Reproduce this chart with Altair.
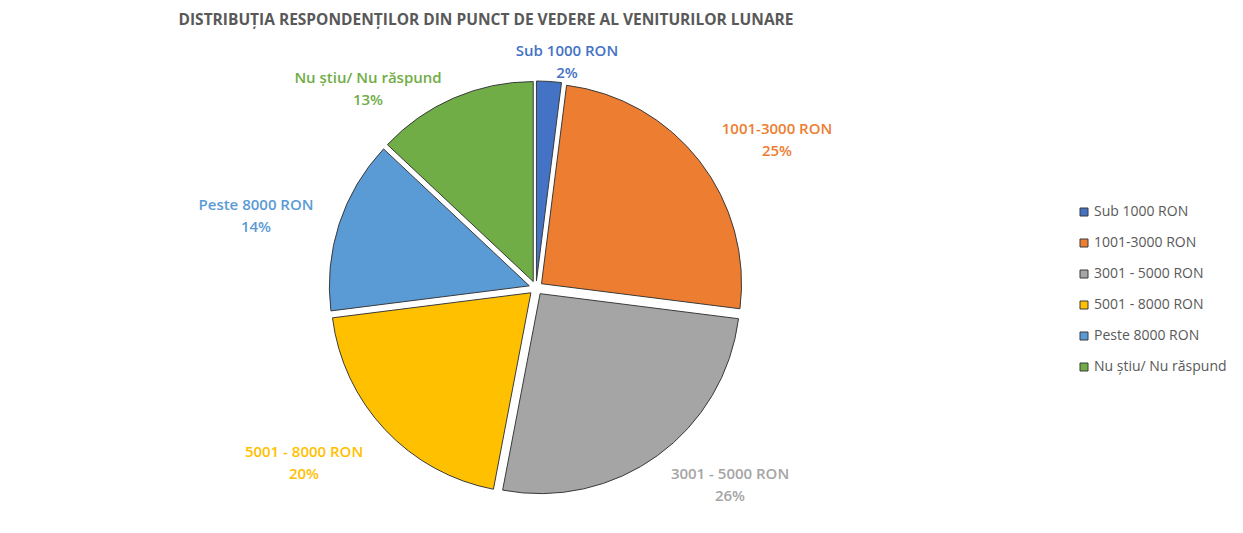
import altair as alt
import pandas as pd

# ---- data ----
categories = ["Sub 1000 RON", "1001-3000 RON", "3001 - 5000 RON", " 5001 - 8000 RON", "Peste 8000 RON", "Nu știu/ Nu răspund"]
label_names = ["Sub 1000 RON", "1001-3000 RON", "3001 - 5000 RON", "5001 - 8000 RON", "Peste 8000 RON", "Nu știu/ Nu răspund"]
values = [2, 25, 26, 20, 14, 13]
title_text = "DISTRIBUȚIA  RESPONDENȚILOR DIN PUNCT DE VEDERE AL VENITURILOR LUNARE"

# ---- styling / layout ----
palette = ["#4472C4", "#ED7D31", "#A5A5A5", "#FFC000", "#5B9BD5", "#70AD47"]
FONT = "Open Sans"
CX, CY, R, EXPLODE = 528, 280, 200, 7
label_layout = {  # label anchor: centre x, first-line y (pixels)
    "Sub 1000 RON": (559, 43),
    "1001-3000 RON": (769, 121),
    "3001 - 5000 RON": (722, 466),
    "5001 - 8000 RON": (296, 444),
    "Peste 8000 RON": (248, 197),
    "Nu știu/ Nu răspund": (360, 70),
}

df = pd.DataFrame({"cat": categories, "value": values, "idx": list(range(len(values)))})

pie = alt.Chart(df).transform_window(
    cum="sum(value)", sort=[alt.SortField("idx")], frame=[None, 0]
).transform_joinaggregate(
    total="sum(value)"
).transform_calculate(
    t1="datum.cum / datum.total",
    t0="(datum.cum - datum.value) / datum.total",
).transform_calculate(
    mid="(datum.t0 + datum.t1) * PI",
).transform_calculate(
    px=f"{CX} + {EXPLODE} * sin(datum.mid)",
    py=f"{CY} - {EXPLODE} * cos(datum.mid)",
).mark_arc(outerRadius=R, stroke="#3a3a3a", strokeWidth=1).encode(
    theta=alt.Theta("t0:Q", scale=alt.Scale(domain=[0, 1], range=[0, 6.283185307179586])),
    theta2="t1:Q",
    x=alt.X("px:Q", scale=None, axis=None),
    y=alt.Y("py:Q", scale=None, axis=None),
    color=alt.Color(
        "cat:N",
        scale=alt.Scale(domain=categories, range=palette),
        sort=categories,
        legend=alt.Legend(
            title=None, orient="none", legendX=1069, legendY=197,
            symbolType="square", symbolSize=64, symbolStrokeColor="#3a3a3a", symbolStrokeWidth=1,
            labelFont=FONT, labelFontSize=14, labelColor="#595959",
            rowPadding=17, labelOffset=3, padding=0,
        ),
    ),
    order=alt.Order("idx:Q"),
)

lab_df = pd.DataFrame({
    "txt": [f"{n}\n{v}%" for n, v in zip(label_names, values)],
    "lx": [label_layout[n][0] for n in label_names],
    "ly": [label_layout[n][1] for n in label_names],
    "col": palette,
})

labels = alt.Chart(lab_df).mark_text(
    font=FONT, fontSize=15, fontWeight=600, lineBreak="\n", lineHeight=22,
    align="center", baseline="middle",
).encode(
    x=alt.X("lx:Q", scale=None, axis=None),
    y=alt.Y("ly:Q", scale=None, axis=None),
    text="txt:N",
    color=alt.Color("col:N", scale=None),
)

title = alt.Chart(pd.DataFrame({"t": [title_text]})).mark_text(
    font=FONT, fontSize=15.5, fontWeight="bold", color="#595959", align="center", baseline="middle",
).encode(
    x=alt.value(478), y=alt.value(12), text="t:N",
)

chart = alt.layer(pie, labels, title).properties(
    width=1227, height=517, autosize=alt.AutoSizeParams(type="none"), padding=0,
).configure_view(stroke=None)

chart.save("out.html", embed_options={"renderer": "svg", "actions": False})
